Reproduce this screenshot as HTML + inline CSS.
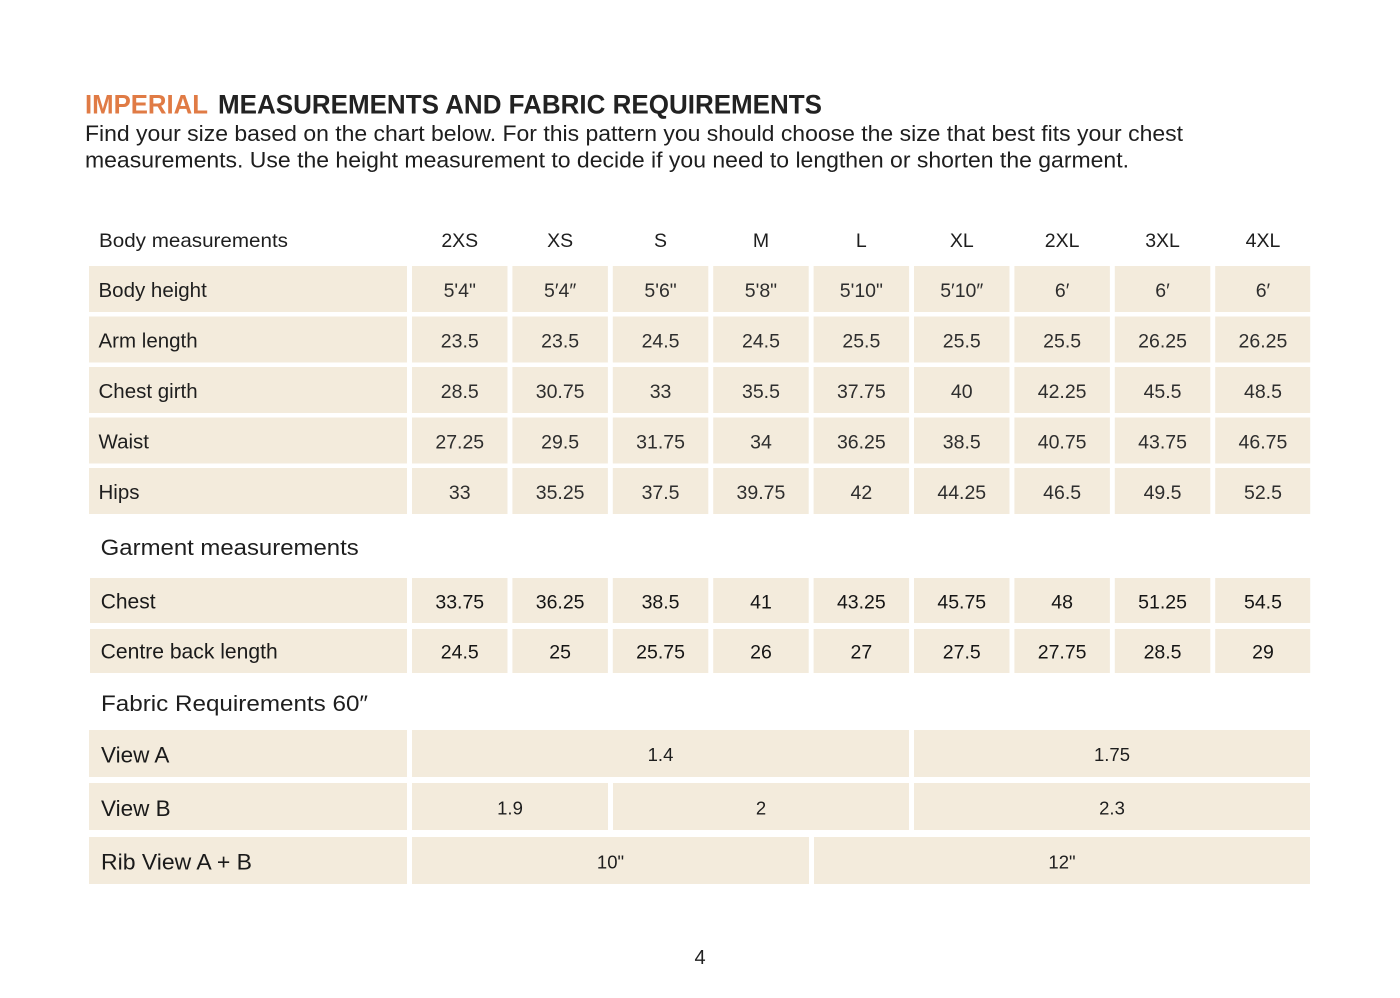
<!DOCTYPE html>
<html>
<head>
<meta charset="utf-8">
<style>
html,body{margin:0;padding:0;background:#fff;}
svg{display:block;}
text{font-family:"Liberation Sans",sans-serif;}
</style>
</head>
<body>
<svg width="1400" height="998" viewBox="0 0 1400 998" xmlns="http://www.w3.org/2000/svg">
<rect width="1400" height="998" fill="#ffffff"/>
<!-- Title -->
<text x="85" y="113.5" font-size="27" font-weight="bold" fill="#e07b45" textLength="123" lengthAdjust="spacingAndGlyphs">IMPERIAL</text>
<text x="218" y="113.5" font-size="27" font-weight="bold" fill="#222222" textLength="604" lengthAdjust="spacingAndGlyphs">MEASUREMENTS AND FABRIC REQUIREMENTS</text>
<text x="85" y="141" font-size="22" fill="#1e1e1e" textLength="1098" lengthAdjust="spacingAndGlyphs">Find your size based on the chart below. For this pattern you should choose the size that best fits your chest</text>
<text x="85" y="167.5" font-size="22" fill="#1e1e1e" textLength="1044" lengthAdjust="spacingAndGlyphs">measurements. Use the height measurement to decide if you need to lengthen or shorten the garment.</text>

<!-- Header row -->
<g font-size="19.5" fill="#1e1e1e">
<text x="99" y="247" textLength="189" lengthAdjust="spacingAndGlyphs">Body measurements</text>
<g text-anchor="middle">
<text x="459.75" y="247">2XS</text>
<text x="560.15" y="247">XS</text>
<text x="660.55" y="247">S</text>
<text x="760.95" y="247">M</text>
<text x="861.35" y="247">L</text>
<text x="961.75" y="247">XL</text>
<text x="1062.15" y="247">2XL</text>
<text x="1162.55" y="247">3XL</text>
<text x="1262.95" y="247">4XL</text>
</g>
</g>

<!-- Cells background -->
<g fill="#f3ebdc">
<!-- body rows -->
<rect x="89" y="266" width="318" height="46"/>
<rect x="89" y="316.5" width="318" height="46"/>
<rect x="89" y="367" width="318" height="46"/>
<rect x="89" y="417.5" width="318" height="46"/>
<rect x="89" y="468" width="318" height="46"/>
<!-- garment rows -->
<rect x="90" y="578" width="317" height="45"/>
<rect x="90" y="629" width="317" height="44"/>
<!-- fabric rows -->
<rect x="89" y="730" width="318" height="47"/>
<rect x="89" y="783" width="318" height="47"/>
<rect x="89" y="837" width="318" height="47"/>
<!-- fabric values -->
<rect x="412" y="730" width="497" height="47"/>
<rect x="914" y="730" width="396" height="47"/>
<rect x="412" y="783" width="196" height="47"/>
<rect x="613" y="783" width="296" height="47"/>
<rect x="914" y="783" width="396" height="47"/>
<rect x="412" y="837" width="397" height="47"/>
<rect x="814" y="837" width="496" height="47"/>
</g>
<g fill="#f3ebdc" id="cols">
<!-- value cells for body + garment rows -->
<g>
<rect x="412" y="266" width="95.5" height="46"/><rect x="512.4" y="266" width="95.5" height="46"/><rect x="612.8" y="266" width="95.5" height="46"/><rect x="713.2" y="266" width="95.5" height="46"/><rect x="813.6" y="266" width="95.5" height="46"/><rect x="914" y="266" width="95.5" height="46"/><rect x="1014.4" y="266" width="95.5" height="46"/><rect x="1114.8" y="266" width="95.5" height="46"/><rect x="1215.2" y="266" width="95" height="46"/>
<rect x="412" y="316.5" width="95.5" height="46"/><rect x="512.4" y="316.5" width="95.5" height="46"/><rect x="612.8" y="316.5" width="95.5" height="46"/><rect x="713.2" y="316.5" width="95.5" height="46"/><rect x="813.6" y="316.5" width="95.5" height="46"/><rect x="914" y="316.5" width="95.5" height="46"/><rect x="1014.4" y="316.5" width="95.5" height="46"/><rect x="1114.8" y="316.5" width="95.5" height="46"/><rect x="1215.2" y="316.5" width="95" height="46"/>
<rect x="412" y="367" width="95.5" height="46"/><rect x="512.4" y="367" width="95.5" height="46"/><rect x="612.8" y="367" width="95.5" height="46"/><rect x="713.2" y="367" width="95.5" height="46"/><rect x="813.6" y="367" width="95.5" height="46"/><rect x="914" y="367" width="95.5" height="46"/><rect x="1014.4" y="367" width="95.5" height="46"/><rect x="1114.8" y="367" width="95.5" height="46"/><rect x="1215.2" y="367" width="95" height="46"/>
<rect x="412" y="417.5" width="95.5" height="46"/><rect x="512.4" y="417.5" width="95.5" height="46"/><rect x="612.8" y="417.5" width="95.5" height="46"/><rect x="713.2" y="417.5" width="95.5" height="46"/><rect x="813.6" y="417.5" width="95.5" height="46"/><rect x="914" y="417.5" width="95.5" height="46"/><rect x="1014.4" y="417.5" width="95.5" height="46"/><rect x="1114.8" y="417.5" width="95.5" height="46"/><rect x="1215.2" y="417.5" width="95" height="46"/>
<rect x="412" y="468" width="95.5" height="46"/><rect x="512.4" y="468" width="95.5" height="46"/><rect x="612.8" y="468" width="95.5" height="46"/><rect x="713.2" y="468" width="95.5" height="46"/><rect x="813.6" y="468" width="95.5" height="46"/><rect x="914" y="468" width="95.5" height="46"/><rect x="1014.4" y="468" width="95.5" height="46"/><rect x="1114.8" y="468" width="95.5" height="46"/><rect x="1215.2" y="468" width="95" height="46"/>
<rect x="412" y="578" width="95.5" height="45"/><rect x="512.4" y="578" width="95.5" height="45"/><rect x="612.8" y="578" width="95.5" height="45"/><rect x="713.2" y="578" width="95.5" height="45"/><rect x="813.6" y="578" width="95.5" height="45"/><rect x="914" y="578" width="95.5" height="45"/><rect x="1014.4" y="578" width="95.5" height="45"/><rect x="1114.8" y="578" width="95.5" height="45"/><rect x="1215.2" y="578" width="95" height="45"/>
<rect x="412" y="629" width="95.5" height="44"/><rect x="512.4" y="629" width="95.5" height="44"/><rect x="612.8" y="629" width="95.5" height="44"/><rect x="713.2" y="629" width="95.5" height="44"/><rect x="813.6" y="629" width="95.5" height="44"/><rect x="914" y="629" width="95.5" height="44"/><rect x="1014.4" y="629" width="95.5" height="44"/><rect x="1114.8" y="629" width="95.5" height="44"/><rect x="1215.2" y="629" width="95" height="44"/>
</g>
</g>

<!-- Body row labels -->
<g font-size="20.5" fill="#1e1e1e">
<text x="98.5" y="297">Body height</text>
<text x="98.5" y="347.5">Arm length</text>
<text x="98.5" y="398">Chest girth</text>
<text x="98.5" y="448.5">Waist</text>
<text x="98.5" y="499">Hips</text>
</g>

<!-- Body values -->
<g font-size="19.5" fill="#2e2e2e" text-anchor="middle">
<text x="459.75" y="297">5'4"</text><text x="560.15" y="297">5′4″</text><text x="660.55" y="297">5'6"</text><text x="760.95" y="297">5'8"</text><text x="861.35" y="297">5'10"</text><text x="961.75" y="297">5′10″</text><text x="1062.15" y="297">6′</text><text x="1162.55" y="297">6′</text><text x="1262.95" y="297">6′</text>
<text x="459.75" y="347.5">23.5</text><text x="560.15" y="347.5">23.5</text><text x="660.55" y="347.5">24.5</text><text x="760.95" y="347.5">24.5</text><text x="861.35" y="347.5">25.5</text><text x="961.75" y="347.5">25.5</text><text x="1062.15" y="347.5">25.5</text><text x="1162.55" y="347.5">26.25</text><text x="1262.95" y="347.5">26.25</text>
<text x="459.75" y="398">28.5</text><text x="560.15" y="398">30.75</text><text x="660.55" y="398">33</text><text x="760.95" y="398">35.5</text><text x="861.35" y="398">37.75</text><text x="961.75" y="398">40</text><text x="1062.15" y="398">42.25</text><text x="1162.55" y="398">45.5</text><text x="1262.95" y="398">48.5</text>
<text x="459.75" y="448.5">27.25</text><text x="560.15" y="448.5">29.5</text><text x="660.55" y="448.5">31.75</text><text x="760.95" y="448.5">34</text><text x="861.35" y="448.5">36.25</text><text x="961.75" y="448.5">38.5</text><text x="1062.15" y="448.5">40.75</text><text x="1162.55" y="448.5">43.75</text><text x="1262.95" y="448.5">46.75</text>
<text x="459.75" y="499">33</text><text x="560.15" y="499">35.25</text><text x="660.55" y="499">37.5</text><text x="760.95" y="499">39.75</text><text x="861.35" y="499">42</text><text x="961.75" y="499">44.25</text><text x="1062.15" y="499">46.5</text><text x="1162.55" y="499">49.5</text><text x="1262.95" y="499">52.5</text>
</g>

<!-- Garment -->
<text x="100.7" y="555" font-size="22" fill="#1e1e1e" textLength="258" lengthAdjust="spacingAndGlyphs">Garment measurements</text>
<g font-size="21" fill="#1a1a1a">
<text x="100.7" y="608.3">Chest</text>
<text x="100.7" y="658.3" textLength="177" lengthAdjust="spacingAndGlyphs">Centre back length</text>
</g>
<g font-size="19.5" fill="#151515" text-anchor="middle">
<text x="459.75" y="608.3">33.75</text><text x="560.15" y="608.3">36.25</text><text x="660.55" y="608.3">38.5</text><text x="760.95" y="608.3">41</text><text x="861.35" y="608.3">43.25</text><text x="961.75" y="608.3">45.75</text><text x="1062.15" y="608.3">48</text><text x="1162.55" y="608.3">51.25</text><text x="1262.95" y="608.3">54.5</text>
<text x="459.75" y="658.3">24.5</text><text x="560.15" y="658.3">25</text><text x="660.55" y="658.3">25.75</text><text x="760.95" y="658.3">26</text><text x="861.35" y="658.3">27</text><text x="961.75" y="658.3">27.5</text><text x="1062.15" y="658.3">27.75</text><text x="1162.55" y="658.3">28.5</text><text x="1262.95" y="658.3">29</text>
</g>

<!-- Fabric -->
<text x="101" y="711" font-size="22" fill="#1e1e1e" textLength="267" lengthAdjust="spacingAndGlyphs">Fabric Requirements 60″</text>
<g font-size="22.5" fill="#1a1a1a">
<text x="101" y="762.5">View A</text>
<text x="101" y="816">View B</text>
<text x="101" y="869.5" textLength="151" lengthAdjust="spacingAndGlyphs">Rib View A + B</text>
</g>
<g font-size="18.5" fill="#1e1e1e" text-anchor="middle">
<text x="660.5" y="761">1.4</text>
<text x="1112" y="761">1.75</text>
<text x="510" y="814.5">1.9</text>
<text x="761" y="814.5">2</text>
<text x="1112" y="814.5">2.3</text>
<text x="610.5" y="868.3">10"</text>
<text x="1062" y="868.3">12"</text>
</g>

<!-- page number -->
<text x="700" y="964" font-size="20" fill="#222" text-anchor="middle">4</text>
</svg>
</body>
</html>
